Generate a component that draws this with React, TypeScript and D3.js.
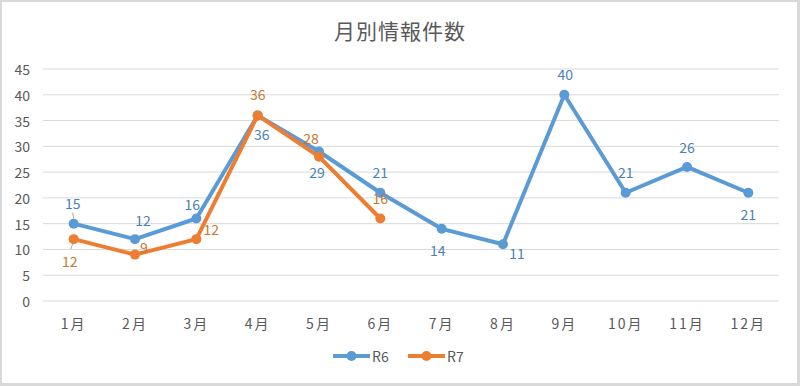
import React, { useEffect, useRef } from 'react';
import * as d3 from 'd3';

const months = ['1月', '2月', '3月', '4月', '5月', '6月', '7月', '8月', '9月', '10月', '11月', '12月'];
const r6 = [15, 12, 16, 36, 29, 21, 14, 11, 40, 21, 26, 21];
const r7 = [12, 9, 12, 36, 28, 16];
const yTicks = [0, 5, 10, 15, 20, 25, 30, 35, 40, 45];

// label offsets (dx, dy) relative to each point
const r6LabelPos = [[-1, -21], [8, -19], [-4, -15], [4, 19], [-2, 21], [0, -21], [-4, 21], [14, 9], [1, -21], [0, -21], [0, -20], [0, 21]];
const r7LabelPos = [[-4, 22], [9, -8], [15, -10], [0, -21], [-8, -19], [0, -21]];

export default function App() {
  const ref = useRef<SVGSVGElement>(null);

  useEffect(() => {
    const width = 800;
    const height = 386;
    const margin = { top: 69, right: 21, bottom: 85, left: 43 };
    const font = '"Noto Sans CJK JP", "Noto Sans", sans-serif';

    const svg = d3.select(ref.current);
    svg.selectAll('*').remove();
    svg.attr('width', width).attr('height', height);

    // frame
    svg.append('rect').attr('x', 0).attr('y', 0).attr('width', width).attr('height', height).attr('fill', '#d9d9d9');
    svg.append('rect').attr('x', 2).attr('y', 2).attr('width', 795).attr('height', 381).attr('fill', '#ffffff');

    const x = d3.scaleBand<string>()
      .domain(months)
      .range([margin.left, width - margin.right]);

    const y = d3.scaleLinear()
      .domain([0, 45])
      .range([height - margin.bottom, margin.top]);

    // title
    svg.append('text')
      .attr('x', 400).attr('y', 30)
      .attr('text-anchor', 'middle').attr('dominant-baseline', 'central')
      .attr('font-family', font).attr('font-size', 21).attr('letter-spacing', 1).attr('fill', '#595959')
      .text('月別情報件数');

    // gridlines
    svg.append('g')
      .selectAll('line')
      .data(yTicks)
      .enter()
      .append('line')
      .attr('x1', margin.left).attr('x2', width - margin.right)
      .attr('y1', d => y(d)).attr('y2', d => y(d))
      .attr('stroke', '#d9d9d9').attr('stroke-width', 1);

    // y axis labels
    svg.append('g')
      .selectAll('text')
      .data(yTicks)
      .enter()
      .append('text')
      .attr('x', 30).attr('y', d => y(d))
      .attr('text-anchor', 'end').attr('dominant-baseline', 'central')
      .attr('font-family', font).attr('font-size', 14).attr('fill', '#595959')
      .text(d => d);

    // x axis labels
    svg.append('g')
      .selectAll('text')
      .data(months)
      .enter()
      .append('text')
      .attr('x', d => (x(d) as number) + x.bandwidth() / 2).attr('y', 323)
      .attr('text-anchor', 'middle').attr('dominant-baseline', 'central')
      .attr('font-family', font).attr('font-size', 14).attr('letter-spacing', 2).attr('fill', '#595959')
      .text(d => d);

    const cx = (i: number) => (x(months[i]) as number) + x.bandwidth() / 2;

    const line = d3.line<number>()
      .x((_, i) => cx(i))
      .y(d => y(d));

    const series = [
      { name: 'R6', values: r6, color: '#5B9BD5', labelColor: '#4A82B6', pos: r6LabelPos },
      { name: 'R7', values: r7, color: '#ED7D31', labelColor: '#C5782F', pos: r7LabelPos },
    ];

    series.forEach(s => {
      const g = svg.append('g');
      g.append('path')
        .datum(s.values)
        .attr('d', line)
        .attr('fill', 'none')
        .attr('stroke', s.color)
        .attr('stroke-width', 4)
        .attr('stroke-linejoin', 'round');
      g.selectAll('circle')
        .data(s.values)
        .enter()
        .append('circle')
        .attr('cx', (_, i) => cx(i))
        .attr('cy', d => y(d))
        .attr('r', 5)
        .attr('fill', s.color);
    });

    // leader lines for January labels
    svg.append('line').attr('x1', cx(0) - 1).attr('y1', y(r6[0]) - 11).attr('x2', cx(0)).attr('y2', y(r6[0]) - 5)
      .attr('stroke', '#a6a6a6').attr('stroke-width', 1);
    svg.append('line').attr('x1', cx(0) - 1).attr('y1', y(r7[0]) + 5).attr('x2', cx(0) - 3).attr('y2', y(r7[0]) + 10)
      .attr('stroke', '#a6a6a6').attr('stroke-width', 1);

    // data labels
    series.forEach(s => {
      svg.append('g')
        .selectAll('text')
        .data(s.values)
        .enter()
        .append('text')
        .attr('x', (_, i) => cx(i) + s.pos[i][0])
        .attr('y', (d, i) => y(d) + s.pos[i][1])
        .attr('text-anchor', 'middle').attr('dominant-baseline', 'central')
        .attr('font-family', font).attr('font-size', 14).attr('fill', s.labelColor)
        .text(d => d);
    });

    // legend
    const legend = svg.append('g').attr('transform', 'translate(0,356)');
    const legendX = [333, 408];
    series.forEach((s, i) => {
      const lx = legendX[i];
      legend.append('line').attr('x1', lx).attr('x2', lx + 37).attr('y1', 0).attr('y2', 0)
        .attr('stroke', s.color).attr('stroke-width', 4);
      legend.append('circle').attr('cx', lx + 18.5).attr('cy', 0).attr('r', 5).attr('fill', s.color);
      legend.append('text').attr('x', lx + 39).attr('y', 0)
        .attr('dominant-baseline', 'central')
        .attr('font-family', font).attr('font-size', 14).attr('fill', '#595959')
        .text(s.name);
    });
  }, []);

  return (
    <div style={{ position: 'absolute', left: 0, top: 0 }}>
      <svg ref={ref} style={{ display: 'block' }} />
    </div>
  );
}
